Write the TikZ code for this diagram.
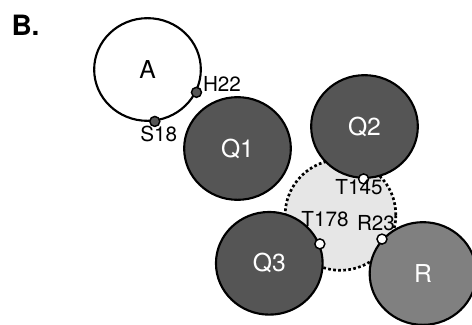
\documentclass[tikz,border=0pt]{standalone}
\usepackage{fontspec}
\setmainfont{TeX Gyre Heros}
\usetikzlibrary{shapes.geometric}

\definecolor{subunit}{RGB}{85,85,85}
\definecolor{regulator}{RGB}{128,128,128}
\definecolor{pocket}{RGB}{230,230,230}

\tikzset{every picture/.style={line width=0.75pt}}
\tikzset{
  protdom/.style={draw,ellipse,line width=1.6pt,minimum width=80pt,minimum height=77pt,inner sep=0pt,font=\fontsize{18.5}{20}\selectfont},
  site/.style={circle,draw,line width=1.1pt,minimum size=7.5pt,inner sep=0pt},
  sitelabel/.style={font=\fontsize{15.5}{17}\selectfont,inner sep=0pt}
}

\begin{document}
\begin{tikzpicture}[x=0.75pt,y=0.75pt,yscale=-1,xscale=1]
\useasboundingbox (0,0) rectangle (472,325);

%Shape: Circle (shared pocket)
\node [circle,fill=pocket,draw,line width=2pt,dash pattern={on 2pt off 1.8pt},minimum size=83pt,inner sep=0pt] (pk) at (340.5,215) {};

%Shape: Circle
\node [protdom,fill=white] (a) at (147.5,69.5) {A};
%Shape: Circle
\node [protdom,fill=subunit,text=white] (q1) at (237.5,148.5) {Q1};
%Shape: Circle
\node [protdom,fill=subunit,text=white] (q2) at (364.5,126.5) {Q2};
%Shape: Circle
\node [protdom,fill=subunit,text=white] (q3) at (269.3,263.3) {Q3};
%Shape: Circle
\node [protdom,fill=regulator,text=white] (r) at (423,273.5) {R};

%Sites
\node [site,fill=subunit] (h22) at (a.-25.5) {};
\node [site,fill=subunit] (s18) at (a.-82.5) {};
\node [site,fill=white] (t145) at (q2.-91) {};
\node [site,fill=white] (t178) at (q3.21) {};
\node [site,fill=white] (r23) at (r.140) {};

% Text Node
\node [sitelabel] (h22l) at (222,84) {H22};
% Text Node
\node [sitelabel] (s18l) at (158.7,134) {S18};
% Text Node
\node [sitelabel] (t145l) at (359,186.7) {T145};
% Text Node
\node [sitelabel] (t178l) at (325,219.3) {T178};
% Text Node
\node [sitelabel] (r23l) at (376,222.7) {R23};
% Text Node
\node [font=\fontsize{21}{24}\selectfont\bfseries,inner sep=0pt] (panel) at (25.5,25) {B.};

\end{tikzpicture}
\end{document}
